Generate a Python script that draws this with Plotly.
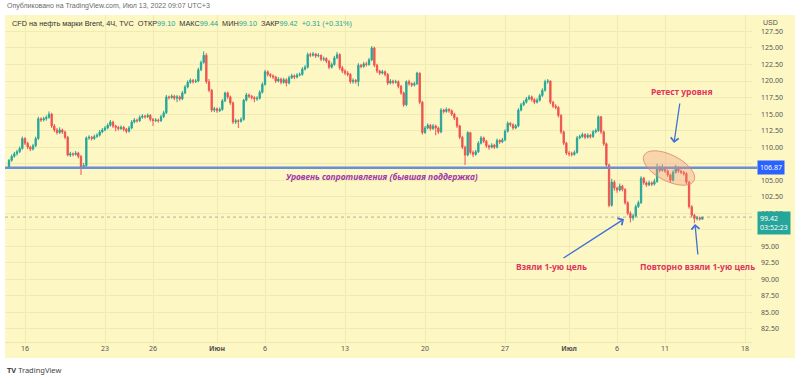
import math
import plotly.graph_objects as go

# ---------------- data (4H candles, TVC Brent CFD, 13 May - 13 Jul 2022) ----------------
open_ = [
    107.0,108.0,108.6,109.0,109.3,109.8,111.3,110.6,110.0,109.7,
    110.2,111.3,114.3,114.1,114.3,114.5,115.0,113.2,112.6,112.2,
    112.6,112.3,111.5,108.8,109.0,108.9,109.1,108.6,107.0,107.2,
    111.4,111.5,111.3,111.6,111.8,112.3,112.6,112.9,113.3,113.8,
    113.2,113.0,112.8,113.0,112.7,112.4,112.9,113.8,114.1,114.0,
    114.5,114.7,114.6,114.8,114.2,114.0,114.1,114.0,114.6,115.2,
    117.6,117.5,117.7,117.4,117.6,117.3,118.2,119.1,119.8,120.1,
    119.9,120.0,121.7,122.8,123.9,119.9,118.6,115.6,115.8,115.5,
    115.7,117.0,118.2,117.6,116.7,113.8,114.0,113.9,114.2,117.1,
    117.9,117.7,117.5,117.3,117.4,118.3,119.5,121.4,121.0,120.8,
    120.6,120.0,120.3,119.8,120.2,119.7,120.5,120.8,120.6,120.9,
    121.0,121.8,122.1,124.0,123.9,124.1,123.8,123.9,123.3,123.4,
    123.0,122.1,122.5,123.5,124.0,122.0,121.5,121.2,121.0,119.9,
    120.1,119.9,122.4,122.2,122.6,122.5,123.2,125.0,122.4,121.5,
    121.2,121.4,121.0,119.7,120.0,119.8,119.9,119.2,118.2,116.4,
    119.9,119.6,119.4,119.6,121.2,116.8,112.2,112.9,113.3,112.8,
    113.2,112.9,112.3,115.6,115.4,115.7,115.5,115.0,114.4,113.2,
    111.5,110.0,108.8,112.2,109.2,108.9,109.3,110.6,111.4,110.9,
    110.2,110.0,110.3,110.0,111.0,110.8,111.1,112.4,113.6,113.4,
    112.9,113.2,115.6,116.4,116.8,117.3,117.6,117.2,116.8,117.1,
    117.8,118.6,119.9,120.0,116.8,116.2,116.0,114.8,112.3,110.6,
    109.1,109.0,108.9,109.2,111.4,111.6,111.9,111.5,111.8,111.6,
    112.3,112.5,114.6,112.3,110.5,107.3,101.2,104.7,103.8,103.5,
    104.1,103.6,101.6,100.0,99.3,99.6,101.0,101.6,105.3,104.6,
    104.3,104.6,104.4,104.8,106.9,106.5,106.7,106.4,105.8,105.0,
    106.2,106.9,106.4,106.2,106.0,104.7,101.0,99.7,99.2,99.3,
    99.10,
]
high = [
    108.2,108.9,109.3,109.6,110.1,111.6,111.5,110.8,110.2,110.5,
    111.6,114.6,114.5,114.6,114.8,115.4,115.2,113.5,112.9,113.0,
    112.8,112.5,111.7,109.3,109.2,109.4,109.3,108.8,107.6,111.6,
    111.8,111.7,111.9,112.1,112.6,112.9,113.2,113.6,114.1,114.0,
    113.4,113.2,113.3,113.2,112.9,113.2,114.1,114.4,114.3,114.8,
    115.0,114.9,115.1,115.0,114.4,114.4,114.3,114.9,115.5,117.9,
    117.8,118.0,117.9,117.9,117.8,118.5,119.4,120.1,120.4,120.3,
    120.3,122.0,123.1,124.5,124.2,120.3,118.8,116.1,116.0,116.0,
    117.3,118.4,118.4,117.8,116.9,114.3,114.2,114.5,117.3,118.2,
    118.1,117.9,117.7,117.7,118.6,119.8,121.7,121.6,121.2,121.0,
    120.8,120.6,120.5,120.5,120.4,120.8,121.1,121.0,121.2,121.3,
    122.1,122.4,124.3,124.3,124.4,124.2,124.2,124.0,123.7,123.6,
    123.2,122.8,123.8,124.4,124.2,122.3,121.8,121.5,121.2,120.4,
    120.3,122.7,122.6,122.9,122.9,123.5,125.3,125.2,122.6,121.7,
    121.7,121.6,121.2,120.3,120.2,120.2,120.1,119.4,118.4,120.1,
    120.2,119.8,119.9,121.4,121.3,117.0,113.2,113.6,113.5,113.5,
    113.4,113.1,115.9,115.8,116.0,115.9,115.7,115.2,114.6,113.4,
    111.7,110.2,112.4,112.3,109.5,109.6,110.9,111.7,111.6,111.1,
    110.4,110.6,110.5,111.3,111.2,111.4,112.7,113.9,113.8,113.6,
    113.5,115.9,116.7,117.1,117.6,117.9,117.8,117.4,117.4,118.1,
    118.9,120.2,120.3,120.1,117.0,116.5,116.2,115.0,112.5,110.8,
    109.4,109.3,109.5,111.7,111.9,112.2,112.1,112.1,112.0,112.6,
    112.8,114.8,114.7,112.5,110.7,107.5,105.2,105.0,104.0,104.5,
    104.3,103.8,101.8,100.3,99.9,101.3,101.9,105.6,105.5,104.8,
    104.9,104.8,105.2,107.5,107.2,107.4,106.9,106.6,106.0,106.5,
    107.3,107.1,106.6,106.4,106.2,104.9,101.2,99.9,99.6,99.5,
    99.44,
]
low = [
    106.8,107.8,108.4,108.7,109.1,109.6,110.3,109.7,109.4,109.5,
    110.0,111.1,113.8,113.9,114.0,114.3,112.9,112.3,111.9,112.0,
    112.0,111.2,108.6,108.5,108.6,108.7,108.3,105.8,106.7,107.0,
    111.1,111.0,111.1,111.4,111.6,112.1,112.4,112.7,113.1,112.9,
    112.4,112.5,112.6,112.4,112.1,112.2,112.7,113.6,113.7,113.8,
    114.3,114.3,114.4,113.9,113.2,113.8,113.7,113.8,114.4,115.0,
    117.2,117.3,117.1,116.8,117.0,117.1,118.0,118.9,119.6,119.6,
    119.7,119.8,121.5,122.6,119.6,118.3,115.3,115.3,115.2,115.3,
    115.5,116.8,117.3,116.4,113.5,113.5,112.9,113.7,114.0,116.9,
    117.4,117.2,116.8,117.0,117.2,118.1,119.3,120.7,120.5,120.3,
    119.7,119.8,119.5,119.6,119.2,119.5,120.3,120.3,120.4,120.7,
    120.8,121.6,121.9,123.6,123.7,123.5,123.6,123.0,123.0,122.7,
    121.8,121.9,122.3,123.3,121.7,121.2,120.9,120.7,119.6,119.6,
    119.6,119.2,121.9,122.0,122.2,122.3,123.0,122.1,121.2,120.9,
    121.0,120.7,119.4,119.5,119.5,119.6,118.9,117.9,116.1,116.2,
    119.3,119.1,119.2,119.4,116.5,111.9,112.0,112.7,112.5,112.6,
    111.8,112.0,112.1,115.1,115.2,115.2,114.7,114.1,112.9,111.2,
    109.7,107.3,108.6,108.9,108.5,108.7,109.1,110.4,110.6,109.9,
    109.6,109.8,109.7,109.8,110.5,110.6,110.9,112.2,113.1,112.6,
    112.7,113.0,115.4,116.2,116.6,117.1,116.9,116.5,116.6,116.9,
    117.6,118.4,119.6,116.5,115.9,115.7,114.5,112.0,110.3,108.8,
    108.6,108.6,108.7,109.0,111.2,111.4,111.2,111.3,111.3,111.4,
    112.1,112.3,112.0,110.2,107.0,100.9,101.0,103.4,103.1,103.3,
    103.3,101.3,99.7,98.6,98.9,99.4,100.8,101.4,104.3,104.0,
    104.1,104.1,104.2,104.6,106.2,106.3,106.1,105.5,104.6,104.8,
    106.0,106.1,105.9,105.7,104.4,100.7,99.4,98.5,98.9,98.9,
    99.10,
]
close = [
    108.0,108.6,109.0,109.3,109.8,111.3,110.6,110.0,109.7,110.2,
    111.3,114.3,114.1,114.3,114.5,115.0,113.2,112.6,112.2,112.6,
    112.3,111.5,108.8,109.0,108.9,109.1,108.6,107.0,107.2,111.4,
    111.5,111.3,111.6,111.8,112.3,112.6,112.9,113.3,113.8,113.2,
    113.0,112.8,113.0,112.7,112.4,112.9,113.8,114.1,114.0,114.5,
    114.7,114.6,114.8,114.2,114.0,114.1,114.0,114.6,115.2,117.6,
    117.5,117.7,117.4,117.6,117.3,118.2,119.1,119.8,120.1,119.9,
    120.0,121.7,122.8,123.9,119.9,118.6,115.6,115.8,115.5,115.7,
    117.0,118.2,117.6,116.7,113.8,114.0,113.9,114.2,117.1,117.9,
    117.7,117.5,117.3,117.4,118.3,119.5,121.4,121.0,120.8,120.6,
    120.0,120.3,119.8,120.2,119.7,120.5,120.8,120.6,120.9,121.0,
    121.8,122.1,124.0,123.9,124.1,123.8,123.9,123.3,123.4,123.0,
    122.1,122.5,123.5,124.0,122.0,121.5,121.2,121.0,119.9,120.1,
    119.9,122.4,122.2,122.6,122.5,123.2,125.0,122.4,121.5,121.2,
    121.4,121.0,119.7,120.0,119.8,119.9,119.2,118.2,116.4,119.9,
    119.6,119.4,119.6,121.2,116.8,112.2,112.9,113.3,112.8,113.2,
    112.9,112.3,115.6,115.4,115.7,115.5,115.0,114.4,113.2,111.5,
    110.0,108.8,112.2,109.2,108.9,109.3,110.6,111.4,110.9,110.2,
    110.0,110.3,110.0,111.0,110.8,111.1,112.4,113.6,113.4,112.9,
    113.2,115.6,116.4,116.8,117.3,117.6,117.2,116.8,117.1,117.8,
    118.6,119.9,120.0,116.8,116.2,116.0,114.8,112.3,110.6,109.1,
    109.0,108.9,109.2,111.4,111.6,111.9,111.5,111.8,111.6,112.3,
    112.5,114.6,112.3,110.5,107.3,101.2,104.7,103.8,103.5,104.1,
    103.6,101.6,100.0,99.3,99.6,101.0,101.6,105.3,104.6,104.3,
    104.6,104.4,104.8,106.9,106.5,106.7,106.4,105.8,105.0,106.2,
    106.9,106.4,106.2,106.0,104.7,101.0,99.7,99.2,99.3,99.11,
    99.42,
]

# day-start candles for the time axis (6 candles per trading day)
tick_candle = [6, 36, 54, 78, 96, 126, 156, 186, 210, 228, 246, 276]
tick_text = ["16", "23", "26", "<b>Июн</b>", "6", "13", "20", "27", "<b>Июл</b>", "6", "11", "18"]
price_ticks = [82.5, 85.0, 87.5, 90.0, 92.5, 95.0, 97.5, 100.0, 102.5, 105.0,
               107.5, 110.0, 112.5, 115.0, 117.5, 120.0, 122.5, 125.0, 127.5]
level_price = 106.87
last_price = 99.42
countdown = "03:52:23"

# ---------------- styling ----------------
BG = "#fdf7c3"
GRID = "#f2eab3"
UP = "#26a69a"
DOWN = "#ef5350"
FONT = "Noto Sans"
SMALL = "Liberation Sans"

W, H = 800, 379
ML, MR, MT, MB = 5, 48, 15, 37
PW, PH = W - ML - MR, H - MT - MB
X0, X1 = -1.5, 278.6
Y0, Y1 = 80.52, 129.99


def px_x(px):
    return X0 + (px - ML) / PW * (X1 - X0)


def py_y(py):
    return Y1 - (py - MT) / PH * (Y1 - Y0)


def ppx(px):
    return (px - ML) / PW


def ppy(py):
    return (H - MB - py) / PH


idx = list(range(len(close)))

fig = go.Figure(go.Candlestick(
    x=idx, open=open_, high=high, low=low, close=close,
    increasing=dict(line=dict(color=UP, width=1), fillcolor=UP),
    decreasing=dict(line=dict(color=DOWN, width=1), fillcolor=DOWN),
    whiskerwidth=0, hoverinfo="skip",
))

shapes = []
# chart background incl. axes area
shapes.append(dict(type="rect", xref="paper", yref="paper", x0=ppx(5), x1=ppx(795),
                   y0=ppy(358), y1=ppy(15), fillcolor=BG, line=dict(width=0), layer="below"))
# last price dotted line
shapes.append(dict(type="line", xref="paper", yref="y", x0=0, x1=1, y0=last_price, y1=last_price,
                   line=dict(color="rgba(130,130,130,0.6)", width=1, dash="dot")))
# resistance level
shapes.append(dict(type="line", xref="paper", yref="y", x0=0, x1=1.007, y0=level_price, y1=level_price,
                   line=dict(color="#6a8fd6", width=2.5)))
# retest ellipse (rotated) computed in pixel space then mapped
cx, cy, a, b, th = 669, 168, 28, 13, math.radians(27)
pts = []
for k in range(73):
    t = 2 * math.pi * k / 72
    ex = cx + a * math.cos(t) * math.cos(th) - b * math.sin(t) * math.sin(th)
    ey = cy + a * math.cos(t) * math.sin(th) + b * math.sin(t) * math.cos(th)
    pts.append(f"{px_x(ex):.3f},{py_y(ey):.3f}")
shapes.append(dict(type="path", xref="x", yref="y", path="M" + " L".join(pts) + " Z",
                   fillcolor="rgba(240,150,125,0.33)", line=dict(color="rgba(225,125,105,0.8)", width=1),
                   layer="above"))

ann = []
# header lines
ann.append(dict(xref="paper", yref="paper", x=ppx(5), y=ppy(6), xanchor="left", yanchor="middle",
                text="Опубликовано на TradingView.com, Июл 13, 2022 09:07 UTC+3", showarrow=False,
                font=dict(family=SMALL, size=7, color="#6b6b6b")))
g = UP
legend_txt = (f"CFD на нефть марки Brent, 4Ч, TVC&nbsp;&nbsp;ОТКР<span style='color:{g}'>99.10</span>"
              f"&nbsp;&nbsp;МАКС<span style='color:{g}'>99.44</span>&nbsp;&nbsp;МИН<span style='color:{g}'>99.10</span>"
              f"&nbsp;&nbsp;ЗАКР<span style='color:{g}'>99.42</span>&nbsp;&nbsp;<span style='color:{g}'>+0.31 (+0.31%)</span>")
ann.append(dict(xref="paper", yref="paper", x=ppx(10), y=ppy(24), xanchor="left", yanchor="middle",
                text=legend_txt, showarrow=False, font=dict(family=SMALL, size=7.3, color="#333333")))
# USD
ann.append(dict(xref="paper", yref="paper", x=ppx(760), y=ppy(22), xanchor="left", yanchor="middle",
                text="USD", showarrow=False, bgcolor=BG, borderpad=2,
                font=dict(family=SMALL, size=7, color="#555555")))
# price labels
ann.append(dict(xref="paper", yref="y", x=ppx(757), y=level_price, xanchor="left", yanchor="middle",
                text=f"{level_price:.2f}", showarrow=False, bgcolor="#2962ff", borderpad=2,
                font=dict(family=FONT, size=7, color="white")))
ann.append(dict(xref="paper", yref="y", x=ppx(757), y=last_price, xanchor="left", yanchor="top",
                text=f"{last_price:.2f}<br>{countdown}", showarrow=False, bgcolor=UP, borderpad=2,
                align="left", yshift=6, font=dict(family=FONT, size=7, color="white")))
# in-chart texts
ann.append(dict(xref="x", yref="y", x=px_x(382), y=py_y(176), text="<b><i>Уровень сопротивления (бывшая поддержка)</i></b>",
                showarrow=False, font=dict(family=FONT, size=8.5, color="#a23aa8")))
ann.append(dict(xref="x", yref="y", x=px_x(682), y=py_y(91), text="<b>Ретест уровня</b>",
                showarrow=False, font=dict(family=FONT, size=8.5, color="#e0355c")))
ann.append(dict(xref="x", yref="y", x=px_x(551), y=py_y(266), text="<b>Взяли 1-ую цель</b>",
                showarrow=False, font=dict(family=FONT, size=8.5, color="#e0355c")))
ann.append(dict(xref="x", yref="y", x=px_x(697), y=py_y(266), text="<b>Повторно взяли 1-ую цель</b>",
                showarrow=False, font=dict(family=FONT, size=8.5, color="#e0355c")))
# arrows
for (tx, ty, hx, hy) in [(680, 102, 674, 143), (562, 259, 624, 219), (698, 256, 695, 224)]:
    ann.append(dict(xref="x", yref="y", axref="x", ayref="y", x=px_x(hx), y=py_y(hy),
                    ax=px_x(tx), ay=py_y(ty), text="", showarrow=True, arrowhead=4,
                    arrowsize=1.2, arrowwidth=1.3, arrowcolor="#3f6fd8"))
# TradingView logo
ann.append(dict(xref="paper", yref="paper", x=ppx(5), y=ppy(370), xanchor="left", yanchor="middle",
                text="<b>TV</b> TradingView", showarrow=False,
                font=dict(family=FONT, size=7.5, color="#444444")))

fig.update_layout(
    width=W, height=H, margin=dict(l=ML, r=MR, t=MT, b=MB),
    paper_bgcolor="white", plot_bgcolor=BG, showlegend=False,
    shapes=shapes, annotations=ann,
    xaxis=dict(range=[X0, X1], rangeslider=dict(visible=False), tickmode="array",
               tickvals=tick_candle, ticktext=tick_text, showgrid=True, gridcolor=GRID, gridwidth=1,
               zeroline=False, showline=True, linecolor="#eee6ad", ticks="",
               tickfont=dict(family=FONT, size=7, color="#555555")),
    yaxis=dict(range=[Y0, Y1], side="right", tickmode="array", tickvals=price_ticks,
               ticktext=[f"{v:.2f}" for v in price_ticks], showgrid=True, gridcolor=GRID, gridwidth=1,
               zeroline=False, ticks="", ticklabelstandoff=8,
               tickfont=dict(family=FONT, size=7, color="#555555")),
    hovermode=False,
)

fig.write_html("out.html", config={"displayModeBar": False, "staticPlot": True},
               post_script="document.body.style.margin='0';document.body.style.padding='0';document.body.style.overflow='hidden';")
